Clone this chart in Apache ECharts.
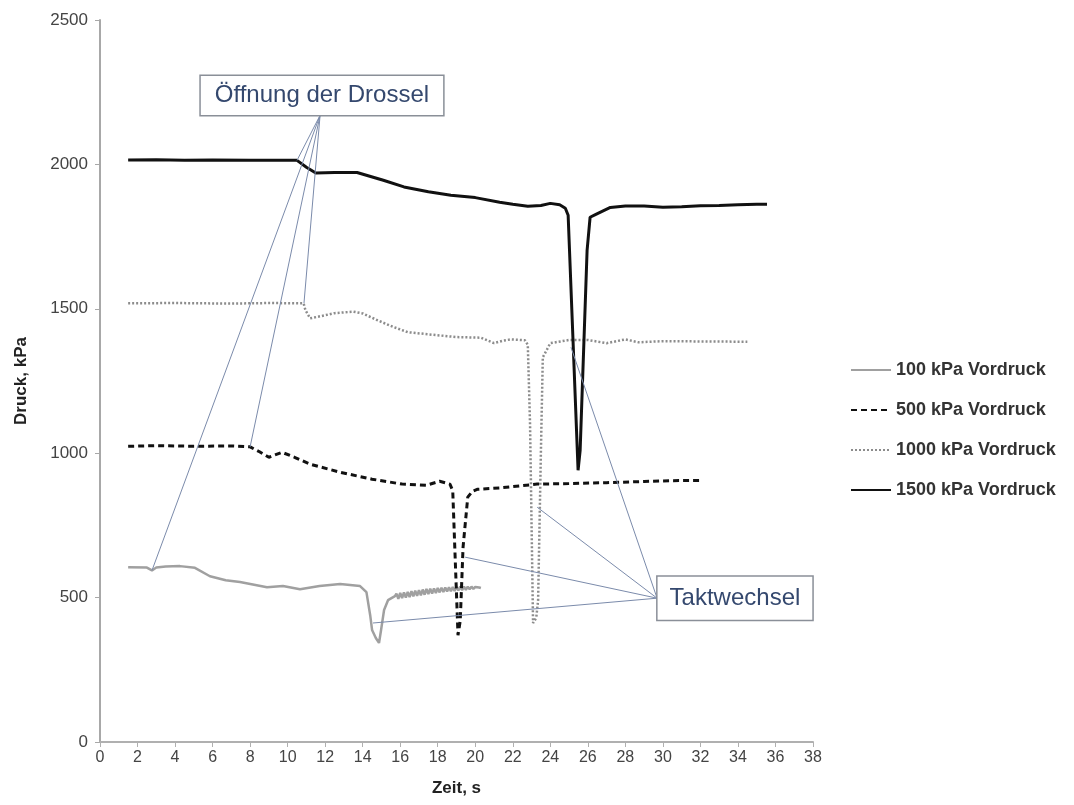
<!DOCTYPE html>
<html>
<head>
<meta charset="utf-8">
<style>
  html, body { margin: 0; padding: 0; background: #fff; }
  #chart { width: 1074px; height: 805px; }
</style>
<script src="https://cdn.jsdelivr.net/npm/echarts@6/dist/echarts.min.js"></script>
</head>
<body>
<div id="chart"></div>
<script>
// Pressure traces: [time s, pressure kPa]
const seriesNames = ['100 kPa Vordruck', '500 kPa Vordruck', '1000 kPa Vordruck', '1500 kPa Vordruck'];

const p100 = [
  [1.5, 605], [2.5, 604], [2.77, 594], [3.0, 604], [3.5, 608], [4.26, 609], [5.06, 603],
  [5.86, 574], [6.7, 560], [7.46, 554], [8.9, 536], [9.75, 540], [10.66, 529], [11.7, 540],
  [12.8, 547], [13.86, 540], [14.2, 519], [14.4, 439], [14.5, 388], [14.7, 360], [14.87, 343],
  [14.98, 388], [15.14, 457], [15.35, 491], [15.72, 505],
  [15.8, 514], [15.9, 496], [16.0, 516], [16.1, 498], [16.2, 518], [16.3, 500], [16.4, 520],
  [16.5, 502], [16.6, 522], [16.7, 504], [16.8, 524], [16.9, 506], [17.0, 526], [17.1, 508],
  [17.2, 528], [17.3, 510], [17.4, 530], [17.5, 512], [17.6, 531], [17.7, 514], [17.8, 532],
  [17.9, 516], [18.0, 533], [18.1, 518], [18.2, 534], [18.3, 519], [18.4, 535], [18.5, 521],
  [18.6, 536], [18.7, 522], [18.8, 537], [18.9, 523], [19.0, 537], [19.1, 525], [19.2, 538],
  [19.3, 526], [19.4, 538], [19.5, 527], [19.6, 538], [19.7, 529], [19.8, 538], [19.9, 530],
  [20.0, 537], [20.1, 531], [20.2, 535], [20.3, 533]
];

const p500 = [
  [1.5, 1024], [3, 1026], [5, 1024], [7, 1025], [8.0, 1022], [8.5, 1005], [9.0, 986],
  [9.7, 1003], [10.4, 985], [11.2, 962], [12.8, 934], [14.5, 910], [16.1, 893], [17.4, 889],
  [18.1, 903], [18.65, 893], [18.8, 870], [18.95, 600], [19.08, 370], [19.2, 420],
  [19.35, 675], [19.6, 848], [19.85, 868], [20.1, 875], [21.3, 880], [23.3, 893], [25, 895],
  [27, 898], [29, 902], [30.5, 905], [32.1, 906]
];

const p1000 = [
  [1.5, 1519], [4, 1520], [7, 1518], [9, 1520], [10.85, 1519], [10.95, 1495], [11.2, 1467],
  [11.8, 1475], [12.5, 1485], [13.5, 1490], [14.0, 1484], [14.8, 1460], [15.6, 1438],
  [16.4, 1419], [17.75, 1410], [19, 1402], [20.3, 1400], [21, 1381], [21.5, 1390],
  [21.9, 1394], [22.65, 1391], [22.8, 1375], [22.92, 1100], [23.08, 412], [23.25, 430],
  [23.35, 491], [23.5, 1010], [23.6, 1332], [24.0, 1381], [25, 1392], [26, 1392], [27, 1381],
  [28, 1394], [28.7, 1384], [30, 1388], [32, 1387], [34.5, 1386]
];

const p1500 = [
  [1.5, 2015], [3, 2016], [4.5, 2014], [6, 2015], [8, 2014], [10.5, 2014], [11.0, 1990],
  [11.5, 1970], [12.5, 1972], [13.7, 1972], [15.1, 1945], [16.2, 1922], [17.5, 1905],
  [18.7, 1893], [20, 1885], [21.3, 1869], [22, 1862], [22.8, 1855], [23.5, 1858],
  [24.0, 1865], [24.5, 1860], [24.8, 1848], [24.95, 1824], [25.48, 941], [25.59, 1010],
  [25.96, 1702], [26.12, 1817], [26.4, 1826], [27.2, 1851], [28, 1856], [29, 1856],
  [30, 1852], [31, 1853], [32, 1857], [33, 1858], [34, 1860], [35, 1862], [35.55, 1862]
];

// Axis ticks
const xTicks = { min: 0, max: 38, step: 2 };
const yTicks = { min: 0, max: 2500, step: 500 };

// Callouts: label, box centre, point where leader lines start, and target points on the traces
const openingLabel = 'Öffnung der Drossel';
const openingBox = [11.83, 2239];
const openingOrigin = [11.73, 2170];
const openingTargets = [[2.77, 594], [8.0, 1022], [10.87, 1519], [10.5, 2014]];

const switchLabel = 'Taktwechsel';
const switchBox = [33.84, 498];
const switchOrigin = [29.69, 498];
const switchTargets = [[25.1, 1367], [23.3, 813], [19.46, 640], [14.55, 412]];

const styles = [
  { color: '#a0a0a0', width: 2.5, type: 'solid' },
  { color: '#111111', width: 3, type: [6, 4] },
  { color: '#8c8c8c', width: 2.5, type: [2, 2] },
  { color: '#111111', width: 3, type: 'solid' }
];
const traces = [p100, p500, p1000, p1500];

const leaderStyle = { color: '#7b8bab', width: 1, type: 'solid' };
const calloutText = {
  color: '#34486e', fontSize: 24, fontFamily: 'Liberation Sans, Arial, sans-serif',
  backgroundColor: '#ffffff', borderColor: '#8a8f98', borderWidth: 1.5
};

function leaders(origin, targets) {
  return targets.map(t => [{ coord: origin }, { coord: t }]);
}
function callout(pos, text, padding) {
  return {
    coord: pos, symbol: 'rect', symbolSize: 1,
    itemStyle: { color: 'rgba(0,0,0,0)' },
    label: Object.assign({ show: true, position: 'inside', formatter: text, padding: padding, lineHeight: 27 }, calloutText)
  };
}

const chart = echarts.init(document.getElementById('chart'), null, { renderer: 'canvas' });

const series = traces.map((d, i) => ({
  name: seriesNames[i],
  type: 'line',
  data: d,
  symbol: 'none',
  smooth: false,
  lineStyle: { color: styles[i].color, width: styles[i].width, type: styles[i].type },
  itemStyle: { color: styles[i].color },
  z: 3
}));

series.push({
  name: 'callouts',
  type: 'line',
  data: [],
  silent: true,
  z: 4,
  markLine: {
    silent: true,
    symbol: ['none', 'none'],
    label: { show: false },
    lineStyle: leaderStyle,
    animation: false,
    data: leaders(openingOrigin, openingTargets).concat(leaders(switchOrigin, switchTargets))
  },
  markPoint: {
    silent: true,
    animation: false,
    data: [
      callout(openingBox, openingLabel, [6, 14]),
      callout(switchBox, switchLabel, [8, 12])
    ]
  }
});

chart.setOption({
  animation: false,
  backgroundColor: '#ffffff',
  textStyle: { fontFamily: 'Liberation Sans, Arial, sans-serif' },
  grid: { left: 100, right: 261, top: 20, bottom: 63 },
  legend: {
    data: seriesNames,
    orient: 'vertical',
    left: 845,
    top: 356,
    itemWidth: 40,
    itemHeight: 14,
    itemGap: 22,
    itemStyle: { opacity: 0 },
    textStyle: { fontSize: 18, fontWeight: 'bold', color: '#333333' }
  },
  xAxis: {
    type: 'value',
    min: xTicks.min, max: xTicks.max, interval: xTicks.step,
    name: 'Zeit, s',
    nameLocation: 'middle',
    nameGap: 38,
    nameTextStyle: { fontSize: 17, fontWeight: 'bold', color: '#222' },
    axisLine: { lineStyle: { color: '#b0b0b0', width: 2 } },
    axisTick: { show: true, length: 5, lineStyle: { color: '#b0b0b0' } },
    axisLabel: { fontSize: 16, color: '#444', margin: 8 },
    splitLine: { show: false }
  },
  yAxis: {
    type: 'value',
    min: yTicks.min, max: yTicks.max, interval: yTicks.step,
    name: 'Druck, kPa',
    nameLocation: 'middle',
    nameGap: 70,
    nameTextStyle: { fontSize: 17, fontWeight: 'bold', color: '#222' },
    axisLine: { show: true, lineStyle: { color: '#a8a8a8', width: 2 } },
    axisTick: { show: true, length: 5, lineStyle: { color: '#a8a8a8' } },
    axisLabel: { fontSize: 17, color: '#444', margin: 12, formatter: v => String(v) },
    splitLine: { show: false }
  },
  series: series
});
</script>
</body>
</html>
